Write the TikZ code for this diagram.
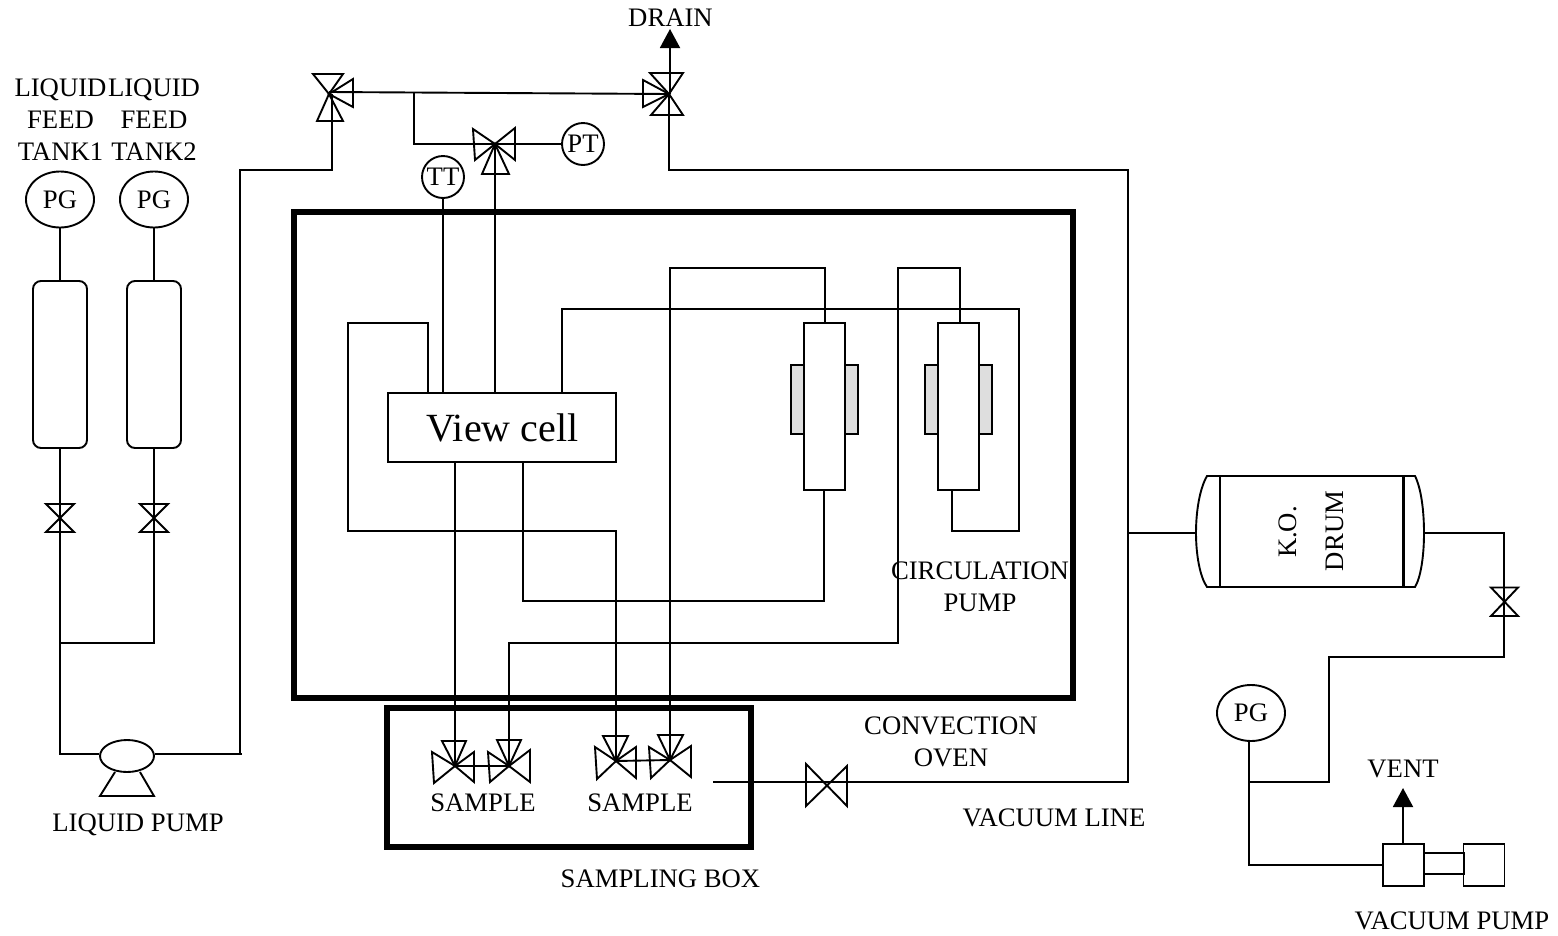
\documentclass[tikz,border=0pt]{standalone}
\usepackage{fontspec}
\setmainfont{Liberation Serif}
\usetikzlibrary{shapes.geometric,arrows.meta}
\tikzset{
  pipe/.style={draw=black,line width=1.9pt,line join=miter},
  vbody/.style={draw=black,line width=1.9pt,line join=miter},
  lbl/.style={inner sep=0pt,align=center,font=\fontsize{26.7}{32}\selectfont},
  gauge/.style={draw=black,line width=1.9pt,ellipse,minimum width=68pt,minimum height=56pt,inner sep=0pt,font=\fontsize{26.7}{32}\selectfont},
  xmit/.style={draw=black,line width=1.9pt,circle,minimum size=42pt,inner sep=0pt,font=\fontsize{26.7}{32}\selectfont},
  tankbox/.style={draw=black,line width=1.9pt,rounded corners=8pt,minimum width=54pt,minimum height=167pt,inner sep=0pt,outer sep=0pt},
  column/.style={draw=black,line width=1.9pt,fill=white,minimum width=41pt,minimum height=167pt,inner sep=0pt,outer sep=0pt},
  heater/.style={draw=black,line width=1.9pt,fill=black!13,minimum width=13.5pt,minimum height=69pt,inner sep=0pt,outer sep=0pt},
  pumpbox/.style={draw=black,line width=1.9pt,fill=white,minimum width=41pt,minimum height=42pt,inner sep=0pt,outer sep=0pt},
  flow/.style={pipe,-{Triangle[length=19pt,width=20pt]}},
}
\newcommand{\vtri}[3]{\draw[vbody] (#1) -- #2 -- #3 -- cycle;}
\begin{document}
\begin{tikzpicture}[x=1pt,y=-1pt]
\useasboundingbox (0,0) rectangle (1558,935);
% --- enclosures
\node[draw=black,line width=5.5pt,minimum width=779pt,minimum height=486pt,inner sep=0pt,outer sep=0pt] (oven) at (683.5,455) {};
\node[draw=black,line width=5.5pt,minimum width=364pt,minimum height=139pt,inner sep=0pt,outer sep=0pt] (sbox) at (569,777.5) {};
% --- valve centres
\coordinate (vfa) at (60,517);
\coordinate (vfb) at (154,517);
\coordinate (vl) at (329,94);
\coordinate (vr) at (669,94);
\coordinate (vm) at (495,144);
\coordinate (s1) at (455,766);
\coordinate (s2) at (509,766);
\coordinate (s3) at (616,761);
\coordinate (s4) at (670,760);
\coordinate (vv) at (827,785);
\coordinate (vd) at (1504,602);
% --- feed tanks
\node[gauge] (pga) at (60,199.5) {PG};
\node[gauge] (pgb) at (154,199.5) {PG};
\node[tankbox] (ta) at (60,364.5) {};
\node[tankbox] (tb) at (154,364.5) {};
\node[draw=black,line width=1.9pt,ellipse,minimum width=54pt,minimum height=32pt,inner sep=0pt] (lp) at (127,756) {};
\coordinate (ja) at (60,643);
\coordinate (jb) at (154,643);
\coordinate (lpin) at (60,754);
\coordinate (lpout) at (242,754);
\coordinate (riseb) at (240,754);
\coordinate (riset) at (240,170);
\coordinate (vlb) at (332,170);
\draw[pipe] (pga.south) -- (ta.north);
\draw[pipe] (pgb.south) -- (tb.north);
\draw[pipe] (ta.south) -- (ja) -- (lpin) -- (lp.west |- lpin);
\draw[pipe] (tb.south) -- (jb) -- (ja);
\draw[pipe] (lp.east |- lpout) -- (lpout);
\draw[pipe] (riseb) -- (riset) -- (vlb) -- (vlb |- vl);
\draw[vbody] (115,772) -- (100,796) -- (154,796) -- (140,772);
% --- instruments and top manifold
\node[xmit] (tt) at (443,177) {TT};
\node[xmit] (pt) at (583,144) {PT};
\coordinate (tee) at (414,92.7);
\coordinate (teeb) at (414,144);
\draw[pipe] (vl) ++(0,-2) -- (vr);
\draw[pipe] (tee) -- (teeb) -- (vm);
\draw[pipe] (vm) -- (pt.west);
\coordinate (draintip) at (670,29);
\coordinate (drainbase) at (670,94);
\draw[flow] (drainbase) -- (draintip);
% --- view cell
\node[draw=black,line width=1.9pt,fill=white,minimum width=228pt,minimum height=69pt,inner sep=0pt,outer sep=0pt,font=\fontsize{40}{44}\selectfont] (view) at (502,427.5) {\hspace{1pt}View cell};
% --- columns
\node[heater] (h1) at (797.5,399.5) {};
\node[heater] (h2) at (851,399.5) {};
\node[heater] (h3) at (931.5,399.5) {};
\node[heater] (h4) at (985.5,399.5) {};
\node[column] (c1) at (824.5,406.5) {};
\node[column] (c2) at (958.5,406.5) {};
% --- ports and bends in the oven
\coordinate (pa) at (428,393);
\coordinate (pa1) at (428,323);
\coordinate (pa2) at (348,323);
\coordinate (pa3) at (348,531);
\coordinate (pa4) at (616,531);
\coordinate (pb) at (562,393);
\coordinate (pb1) at (562,309);
\coordinate (pb2) at (1019,309);
\coordinate (pb3) at (1019,531);
\coordinate (pb4) at (952,531);
\coordinate (pb5) at (952,490);
\coordinate (c1t) at (825,323);
\coordinate (c1u) at (825,268);
\coordinate (c1l) at (670,268);
\coordinate (c1b) at (824,490);
\coordinate (c1d) at (824,601);
\coordinate (c1e) at (523,601);
\coordinate (c1f) at (523,462);
\coordinate (c2t) at (960,323);
\coordinate (c2u) at (960,268);
\coordinate (c2l) at (898,268);
\coordinate (c2d) at (898,643);
\coordinate (c2e) at (509,643);
\coordinate (vp) at (455,462);
\coordinate (ttp) at (443,393);
\coordinate (vmp) at (495,393);
\draw[pipe] (tt.south) -- (ttp);
\draw[pipe] (vm) -- (vmp);
\draw[pipe] (pa) -- (pa1) -- (pa2) -- (pa3) -- (pa4) -- (s3);
\draw[pipe] (pb) -- (pb1) -- (pb2) -- (pb3) -- (pb4) -- (pb5);
\draw[pipe] (c1t) -- (c1u) -- (c1l) -- (s4);
\draw[pipe] (c1b) -- (c1d) -- (c1e) -- (c1f);
\draw[pipe] (c2t) -- (c2u) -- (c2l) -- (c2d) -- (c2e) -- (s2);
\draw[pipe] (vp) -- (s1);
\draw[pipe] (s1) -- (s2);
\draw[pipe] (s3) -- (s4);
% --- vacuum line and K.O. drum
\coordinate (vacs) at (713,782);
\coordinate (vace) at (1128,782);
\coordinate (vacu) at (1128,170);
\coordinate (vrb) at (669,170);
\coordinate (dl) at (1196,533);
\coordinate (dr) at (1424,533);
\coordinate (dj) at (1128,533);
\draw[pipe] (vr) -- (vrb) -- (vacu) -- (vace) -- (vacs);
\draw[pipe] (dj) -- (dl);
\draw[pipe] (1207,476) -- (1415,476) .. controls (1421,488) and (1424,510) .. (dr) .. controls (1424,555) and (1421,577) .. (1415,587) -- (1207,587) .. controls (1200,577) and (1196,555) .. (dl) .. controls (1196,510) and (1200,488) .. (1207,476) -- cycle;
\draw[line width=2pt] (1220,476) -- (1220,587);
\draw[line width=3pt] (1403,476) -- (1403,587);
% --- vacuum pump side
\node[gauge] (pgv) at (1251,713) {PG};
\node[pumpbox] (vpa) at (1403.5,865) {};
\node[pumpbox] (vpb) at (1484,865) {};
\node[draw=black,line width=1.9pt,minimum width=40pt,minimum height=21pt,inner sep=0pt,outer sep=0pt] (vpc) at (1444,863.5) {};
\coordinate (e1) at (1504,533);
\coordinate (e2) at (1504,657);
\coordinate (e3) at (1329,657);
\coordinate (e4) at (1329,782);
\coordinate (e5) at (1249,782);
\coordinate (e6) at (1249,741);
\coordinate (e7) at (1249,865);
\coordinate (ventbase) at (1403,844);
\coordinate (venttip) at (1403,788);
\draw[pipe] (dr) -- (e1) -- (e2) -- (e3) -- (e4) -- (e5);
\draw[pipe] (e6) -- (e7) -- (vpa.west);
\draw[flow] (ventbase) -- (venttip);
% --- valve bodies
\draw[vbody] (46,504) -- (74,504) -- (46,532) -- (74,532) -- cycle;
\draw[vbody] (140,504) -- (168,504) -- (140,532) -- (168,532) -- cycle;
\draw[vbody] (1491,587.5) -- (1518,587.5) -- (1491,616) -- (1518,616) -- cycle;
\draw[vbody] (806,764) -- (847,806) -- (847,766) -- (806,806) -- cycle;
\vtri{vl}{(313,74)}{(343,74)}
\vtri{vl}{(317,121)}{(343,121)}
\vtri{vl}{(353,79)}{(353,107)}
\vtri{vr}{(650,73)}{(683,73)}
\vtri{vr}{(651,115)}{(683,115)}
\vtri{vr}{(643,80)}{(643,107)}
\vtri{vm}{(473,129)}{(475,160)}
\vtri{vm}{(515,128)}{(515,160)}
\vtri{vm}{(482,174)}{(509,174)}
\vtri{s1}{(442,741)}{(466,741)}
\vtri{s1}{(432,752)}{(434,783)}
\vtri{s1}{(474,752)}{(474,782)}
\vtri{s2}{(497,740)}{(521,740)}
\vtri{s2}{(488,752)}{(490,782)}
\vtri{s2}{(530,750)}{(530,782)}
\vtri{s3}{(603,736)}{(628,736)}
\vtri{s3}{(595,747)}{(597,779)}
\vtri{s3}{(636,747)}{(636,778)}
\vtri{s4}{(658,735)}{(683,735)}
\vtri{s4}{(649,747)}{(651,778)}
\vtri{s4}{(691,746)}{(691,777)}
% --- labels
\node[lbl] (lt1) at (60.5,120) {LIQUID\\FEED\\TANK1};
\node[lbl] (lt2) at (154,120) {LIQUID\\FEED\\TANK2};
\node[lbl] (ldr) at (670.5,18) {DRAIN};
\node[lbl] (llp) at (138,825) {LIQUID PUMP};
\node[lbl] (lsa) at (483,803) {SAMPLE};
\node[lbl] (lsb) at (640,803) {SAMPLE};
\node[lbl] (lsx) at (660.5,879) {SAMPLING BOX};
\node[lbl] (lco) at (951,742) {CONVECTION\\OVEN};
\node[lbl] (lci) at (980,587) {CIRCULATION\\PUMP};
\node[lbl] (lvl) at (1054,818) {VACUUM LINE};
\node[lbl] (lve) at (1403,769) {VENT};
\node[lbl] (lvp) at (1452,921) {VACUUM PUMP};
\node[lbl,rotate=90] (lko) at (1288,532) {K.O.};
\node[lbl,rotate=90] (ldm) at (1335,531) {DRUM};
\end{tikzpicture}
\end{document}
